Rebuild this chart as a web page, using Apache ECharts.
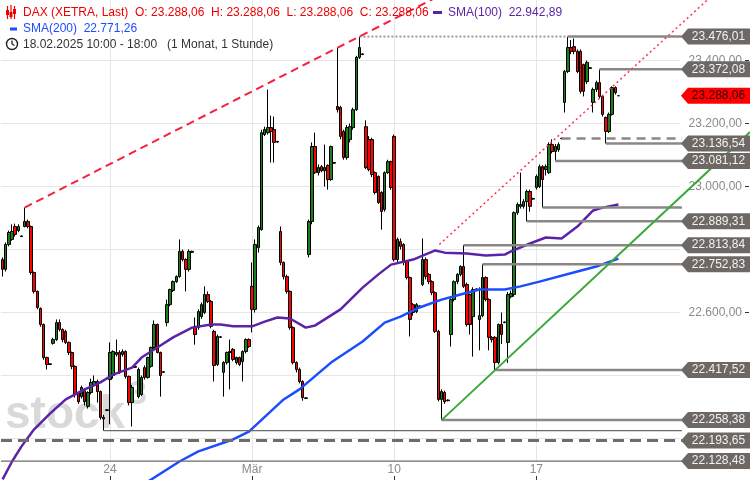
<!DOCTYPE html>
<html><head><meta charset="utf-8">
<script src="https://cdn.jsdelivr.net/npm/echarts/dist/echarts.min.js"></script>
<style>html,body{margin:0;padding:0;background:#fff}#c{width:750px;height:480px}</style>
</head><body><div id="c"></div>
<script>
// ---- hourly candles (Feb 18 .. Mar 19, 2025) ----
const opens = [
22768,22737,22816,22832,22873,22860,22841,
22873,22889,22873,22727,22667,22613,22562,22457,22435,
22502,22514,22568,22546,22540,22505,22473,22429,22346,
22333,22352,22302,22346,22370,22381,22349,22267,22289,
22387,22400,22467,22473,22467,22476,22397,22314,22429,
22333,22340,22425,22394,22429,22489,22562,22473,22410,
22568,22625,22670,22698,22714,22794,22768,22737,22794,
22556,22552,22587,22600,22657,22635,22540,22435,22521,
22410,22441,22473,22483,22441,22457,22444,22476,22514,
22683,22610,22806,22863,23165,23171,23187,23181,23143,
22857,22759,22714,22667,22552,22441,22419,22381,22327,
22784,22889,23127,23044,23063,23050,23067,23022,23076,
23254,23251,23175,23092,23149,23187,23244,23410,23419,
23190,23149,23149,23044,23032,22981,22927,23044,23079,
23159,22768,22825,22816,22762,22711,22625,22603,22619,
22689,22768,22721,22698,22663,22540,22324,22346,22320,
22530,22641,22698,22721,22746,22689,22657,22587,22673,
22578,22590,22711,22641,22521,22521,22441,22562,22568,
22505,22650,22657,22917,22937,22937,22952,22984,22960,
22997,23000,23063,23054,23044,23133,23111,23117,23152,
23267,23365,23441,23444,23429,23429,23387,23333,23375,
23267,23308,23330,23286,23219,23175,23229,23314,23288.06];
const closes = [
22737,22816,22854,22857,22848,22873,22843,
22889,22873,22727,22667,22616,22562,22457,22435,22437,
22514,22568,22546,22514,22505,22473,22429,22340,22317,
22362,22317,22346,22378,22381,22349,22267,22262,22291,
22473,22476,22473,22410,22476,22397,22314,22362,22426,
22419,22394,22394,22457,22489,22562,22473,22400,22412,
22625,22673,22698,22714,22794,22768,22737,22794,22791,
22530,22603,22625,22657,22635,22556,22432,22524,22523,
22441,22473,22476,22451,22457,22435,22476,22514,22492,
22610,22816,22870,23171,23181,23187,23175,23140,23141,
22759,22714,22667,22552,22441,22419,22381,22330,22329,
22889,23127,23044,23060,23050,23060,23022,23127,23074,
23244,23159,23092,23187,23190,23244,23410,23441,23421,
23060,23054,23038,22981,22949,22921,23044,23079,22997,
22768,22832,22810,22759,22711,22578,22600,22625,22621,
22768,22714,22698,22663,22540,22324,22349,22317,22322,
22641,22698,22721,22746,22683,22562,22562,22673,22675,
22590,22711,22641,22521,22514,22441,22562,22530,22570,
22657,22660,22917,22943,22943,22952,22984,22937,22962,
23032,23063,23022,23063,23133,23111,23127,23133,23153,
23365,23441,23429,23429,23365,23302,23302,23394,23377,
23308,23330,23286,23229,23175,23229,23314,23298,23288.06];
const lows = [
22714,22730,22810,22828,22841,22855,22840,
22870,22867,22720,22660,22610,22555,22450,22419,22433,
22498,22510,22540,22505,22500,22465,22420,22330,22310,
22327,22305,22295,22340,22365,22314,22260,22225,22287,
22245,22390,22460,22405,22460,22390,22305,22238,22424,
22327,22335,22387,22390,22425,22485,22470,22333,22408,
22556,22620,22665,22694,22710,22762,22667,22730,22789,
22498,22545,22580,22595,22630,22550,22381,22430,22519,
22333,22435,22356,22445,22435,22430,22381,22470,22488,
22537,22600,22790,22860,23160,23165,23076,23076,23139,
22750,22705,22660,22545,22435,22410,22375,22320,22325,
22775,22880,23040,23035,23045,23000,22990,23018,23072,
23235,23150,23085,23085,23140,23180,23240,23405,23417,
23055,23048,23030,22975,22945,22863,22920,23040,22990,
22762,22760,22800,22750,22705,22524,22590,22598,22617,
22684,22705,22690,22655,22535,22318,22258.38,22310,22318,
22492,22635,22690,22715,22678,22555,22530,22460,22671,
22480,22585,22635,22480,22505,22417.52,22435,22500,22566,
22440,22645,22650,22910,22930,22930,22889.31,22920,22958,
22990,22995,22933,23035,23040,23105,23081.12,23110,23150,
23235,23360,23420,23420,23360,23295,23286,23325,23373,
23235,23300,23280,23222,23136.54,23170,23225,23292,23288.06];
const highs = [
22775,22822,22860,22880,22882,22880,22845,
22933,22895,22876,22730,22670,22616,22565,22460,22438,
22520,22578,22578,22550,22545,22508,22476,22432,22350,
22368,22360,22350,22390,22400,22387,22352,22275,22293,
22505,22480,22514,22480,22483,22480,22400,22370,22432,
22425,22400,22432,22460,22492,22575,22565,22476,22414,
22641,22676,22702,22718,22832,22800,22772,22800,22796,
22584,22610,22632,22683,22667,22640,22545,22530,22525,
22445,22476,22514,22487,22460,22460,22480,22518,22518,
22759,22832,22876,23180,23190,23308,23225,23222,23145,
22873,22762,22720,22670,22556,22445,22425,22385,22331,
22895,23140,23171,23070,23068,23133,23070,23130,23078,
23440,23256,23180,23195,23200,23250,23415,23476.01,23423,
23210,23160,23155,23048,23035,22985,23048,23085,23082,
23165,22838,22835,22820,22765,22714,22630,22630,22623,
22835,22775,22725,22702,22667,22545,22356,22352,22324,
22645,22702,22725,22750,22813.84,22695,22660,22680,22677,
22680,22752.83,22715,22645,22525,22525,22565,22600,22572,
22665,22670,22921,22949,23044,22960,22990,22990,22964,
23038,23070,23068,23070,23140,23150,23135,23140,23155,
23370,23476.01,23465,23470,23435,23435,23390,23400,23379,
23314,23336,23372.08,23290,23222,23235,23318,23318,23288.06];

// x-axis day labels (bar index of the first hour of that day)
const dayLabelIdx = [34, 79, 124, 169];
const dayLabelText = ['24', 'Mär', '10', '17'];

// moving averages: [bar index, value]
const sma100 = [[0,22070],[3,22127],[6,22175],[10,22229],[15,22279],[20,22324],[26,22356],[31,22378],[35,22403],[41,22425],[44,22457],[49,22489],[54,22521],[60,22552],[66,22562],[69,22562],[73,22556],[79,22556],[83,22571],[87,22584],[91,22581],[96,22552],[99,22559],[107,22610],[114,22679],[119,22721],[123,22752],[130,22768],[137,22797],[140,22790],[147,22787],[153,22781],[159,22784],[161,22794],[167,22819],[172,22838],[177,22835],[182,22873],[187,22924],[190,22933],[195,22942.89]];
const sma200 = [[46,22063],[56,22127],[62,22159],[73,22197],[78,22222],[89,22324],[94,22356],[104,22441],[114,22508],[121,22568],[126,22587],[132,22616],[139,22641],[145,22657],[151,22673],[159,22673],[164,22683],[170,22698],[182,22730],[188,22746],[195,22771.26]];

// labelled horizontal levels and the bar they start from
const levelValues = [23476.01, 23372.08, 23136.54, 23081.12, 22889.31, 22813.84, 22752.83, 22417.52, 22258.38, 22193.65, 22128.48];
const levelStarts = [179, 189, 191, 175, 166, 146, 152, 156, 139, -0.5, -0.5];
// unlabelled levels
const plainValues = [22933, 22225];
const plainStarts = [171, 32];
const athValue = 23476.01, athFirst = 113, athSecond = 179;
const prevClose = 23152, prevCloseStart = 177;
const lastPrice = 23288.06;

// trend line anchors [bar index, value]
const redTrend = [[7, 22933], [113, 23476.01]];
const dottedTrend = [[138.3, 22816], [190.9, 23297]];
const greenTrend = [[139, 22258.38], [156, 22417.52]];

const yTickLabels = [23400, 23200, 23000, 22600];

// ---------------------------------------------------
function de(v){ const s = Number(v).toFixed(2).split('.'); return s[0].replace(/\B(?=(\d{3})+(?!\d))/g,'.') + ',' + s[1]; }
function ray(a, b, xEnd){ const k = (b[1]-a[1])/(b[0]-a[0]); return [[a[0],a[1]],[xEnd, a[1]+k*(xEnd-a[0])]]; }

const N = 215;
const cats = Array.from({length:N}, (_, i) => String(i));
const XMAX2 = 236.67;          // overlay axis spans full width
const LINE_END = 215.1;        // where level lines meet the tags
const TAG_X = 225.74;          // centre of the price tags
const FONT = '"Liberation Sans", Arial, sans-serif';
const candles = opens.map((o,i)=>[o, closes[i], lows[i], highs[i]]);
const isDay = (idx) => dayLabelIdx.indexOf(idx) >= 0;

const series = [];
series.push({
  type:'candlestick', xAxisIndex:0, yAxisIndex:0, data:candles, barWidth:3, z:2,
  itemStyle:{color:'#1b7d1b', color0:'#ff0000', borderColor:'#000', borderColor0:'#000', borderColorDoji:'#000', borderWidth:1},
  silent:true
});
series.push({type:'line', xAxisIndex:0, yAxisIndex:0, data:sma100, symbol:'none', z:4, silent:true,
  lineStyle:{color:'#5b24a8', width:2.5}});
series.push({type:'line', xAxisIndex:0, yAxisIndex:0, data:sma200, symbol:'none', z:4, silent:true,
  lineStyle:{color:'#1c4cff', width:2.5}});

function hline(a, b, v, style){
  series.push({type:'line', xAxisIndex:1, yAxisIndex:1, data:[[a,v],[b,v]], symbol:'none', z:5, silent:true, lineStyle:style});
}
const solidStyle = {color:'#8a8886', width:2.5};
levelValues.forEach((v,i)=>{
  if (v === 22193.65) hline(levelStarts[i], LINE_END, v, {color:'#6f6d6b', width:3, type:[11,6]});
  else if (v === 22128.48) hline(levelStarts[i], LINE_END, v, {color:'#6a6a6a', width:1.2});
  else hline(levelStarts[i], LINE_END, v, solidStyle);
});
plainValues.forEach((v,i)=>{
  if (v === 22225) hline(plainStarts[i], LINE_END, v, {color:'#6a6a6a', width:1.2});
  else hline(plainStarts[i], LINE_END, v, solidStyle);
});
hline(athFirst, athSecond, athValue, {color:'#9a9a9a', width:2, type:[2,2]});
hline(prevCloseStart, LINE_END, prevClose, {color:'#8a8886', width:2.5, type:[9,6]});

series.push({type:'line', xAxisIndex:1, yAxisIndex:1, data:ray(redTrend[0], redTrend[1], 150), symbol:'none', z:6, silent:true,
  lineStyle:{color:'#f8203f', width:2, type:[8,5]}});
series.push({type:'line', xAxisIndex:1, yAxisIndex:1, data:ray(dottedTrend[0], dottedTrend[1], XMAX2), symbol:'none', z:6, silent:true,
  lineStyle:{color:'#ff3355', width:1.5, type:[2,3]}});
series.push({type:'line', xAxisIndex:1, yAxisIndex:1, data:ray(greenTrend[0], greenTrend[1], XMAX2), symbol:'none', z:6, silent:true,
  lineStyle:{color:'#3aa83a', width:2}});

const tagPath = 'path://M0,8L7,0L69,0L69,16L7,16Z';
series.push({type:'scatter', xAxisIndex:1, yAxisIndex:1, z:10, silent:true,
  data: levelValues.map(v=>[TAG_X, v]), symbol:tagPath, symbolSize:[69,16], symbolKeepAspect:false,
  itemStyle:{color:'#6d6864', opacity:1},
  label:{show:true, position:'inside', offset:[3,0], color:'#f2f2f2', fontSize:12, fontFamily:FONT, formatter:p=>de(p.value[1])}});
series.push({type:'scatter', xAxisIndex:1, yAxisIndex:1, z:11, silent:true,
  data: [[TAG_X, lastPrice]], symbol:tagPath, symbolSize:[69,16], symbolKeepAspect:false,
  itemStyle:{color:'#ff0000', opacity:1},
  label:{show:true, position:'inside', offset:[3,0], color:'#2a0000', fontSize:12, fontFamily:FONT, formatter:p=>de(p.value[1])}});

const hdr = (x, y, text, fill) => ({type:'text', x:x, y:y, silent:true, z:100,
  style:{text:text, fill:fill, font:'12px '+FONT, textVerticalAlign:'middle', verticalAlign:'middle', textAlign:'left', align:'left'}});

const PLOT = {top:-2.5, height:504, outerBoundsMode:'none', containLabel:false};
const option = {
  animation:false,
  backgroundColor:'#fff',
  textStyle:{fontFamily:FONT},
  grid:[
    Object.assign({left:1, width:679}, PLOT),
    Object.assign({left:1, width:749}, PLOT),
    {left:1, width:679, top:0, height:462, outerBoundsMode:'none', containLabel:false},
    {left:1, width:679, top:462, height:18, outerBoundsMode:'none', containLabel:false}
  ],
  xAxis:[
    {type:'category', gridIndex:0, data:cats, boundaryGap:true, show:false},
    {type:'value', gridIndex:1, min:-0.5, max:XMAX2, show:false},
    {type:'category', gridIndex:2, data:cats, boundaryGap:true,
      axisLine:{show:false}, axisTick:{show:false}, axisLabel:{show:false},
      splitLine:{show:true, alignWithLabel:true, interval:(i)=>isDay(i), lineStyle:{color:'#e6e6e6', width:1}}},
    {type:'category', gridIndex:3, data:cats, boundaryGap:true,
      axisLine:{show:false}, splitLine:{show:false},
      axisTick:{show:true, inside:true, length:4, alignWithLabel:true, interval:(i)=>isDay(i), lineStyle:{color:'#333'}},
      axisLabel:{show:true, inside:true, margin:4, interval:(i)=>isDay(i), color:'#8a8a8a', fontSize:12, fontFamily:FONT,
        formatter:(v,i)=>{ const k = dayLabelIdx.indexOf(Number(v)); return k>=0 ? dayLabelText[k] : ''; }}}
  ],
  yAxis:[
    {type:'value', gridIndex:0, min:22000, max:23600, interval:200, position:'right', offset:69, scale:false,
      axisLine:{show:false},
      axisTick:{show:true, inside:true, length:4, lineStyle:{color:'#333'}},
      axisLabel:{show:true, inside:true, margin:7, color:'#8a8a8a', fontSize:12, fontFamily:FONT,
        formatter:(v)=> yTickLabels.indexOf(v)>=0 ? de(v) : ''},
      splitLine:{show:true, lineStyle:{color:'#e6e6e6', width:1}}},
    {type:'value', gridIndex:1, min:22000, max:23600, show:false},
    {type:'value', gridIndex:2, min:0, max:1, show:false},
    {type:'value', gridIndex:3, min:0, max:1, show:false}
  ],
  series: series,
  graphic:[
    // watermark
    {type:'text', x:5, y:438, z:-100, silent:true,
      style:{text:'stock', fill:'#d9d9d9', font:'bold 46px '+FONT, textVerticalAlign:'bottom', verticalAlign:'bottom'}},
    {type:'text', x:128, y:412, z:-100, silent:true,
      style:{text:'3', fill:'#d9d9d9', font:'bold 34px '+FONT, textVerticalAlign:'bottom', verticalAlign:'bottom'}},
    // candle icon
    {type:'group', z:100, silent:true, children:[
      {type:'line', shape:{x1:7.5,y1:6,x2:7.5,y2:19}, style:{stroke:'#f00000', lineWidth:1.2}},
      {type:'rect', shape:{x:6,y:10,width:3,height:5}, style:{fill:'#f00000'}},
      {type:'line', shape:{x1:11,y1:5,x2:11,y2:19}, style:{stroke:'#f00000', lineWidth:1.2}},
      {type:'rect', shape:{x:9.5,y:12,width:3,height:5}, style:{fill:'#f00000'}},
      {type:'line', shape:{x1:14.5,y1:6,x2:14.5,y2:19}, style:{stroke:'#f00000', lineWidth:1.2}},
      {type:'rect', shape:{x:13,y:9,width:3,height:5}, style:{fill:'#f00000'}}
    ]},
    hdr(23, 12.5, 'DAX (XETRA, Last)  O: ' + de(opens[opens.length-1]) + '  H: ' + de(highs[highs.length-1]) + '  L: ' + de(lows[lows.length-1]) + '  C: ' + de(closes[closes.length-1]), '#f00000'),
    {type:'rect', z:100, silent:true, shape:{x:433,y:11,width:9,height:3}, style:{fill:'#5b24a8'}},
    hdr(448, 12.5, 'SMA(100)  ' + de(sma100[sma100.length-1][1]), '#5b24a8'),
    {type:'rect', z:100, silent:true, shape:{x:10,y:27.5,width:7,height:3}, style:{fill:'#1c4cff'}},
    hdr(23, 28.5, 'SMA(200)  ' + de(sma200[sma200.length-1][1]), '#1c4cff'),
    {type:'group', z:100, silent:true, children:[
      {type:'circle', shape:{cx:12,cy:44,r:5.5}, style:{stroke:'#222', fill:'none', lineWidth:1.4}},
      {type:'polyline', shape:{points:[[12,40.5],[12,44],[14.5,45.5]]}, style:{stroke:'#222', fill:'none', lineWidth:1.3}}
    ]},
    hdr(23, 44.5, '18.02.2025 10:00 - 18:00   (1 Monat, 1 Stunde)', '#333')
  ]
};
const chart = echarts.init(document.getElementById('c'));
chart.setOption(option);
</script>
</body></html>
